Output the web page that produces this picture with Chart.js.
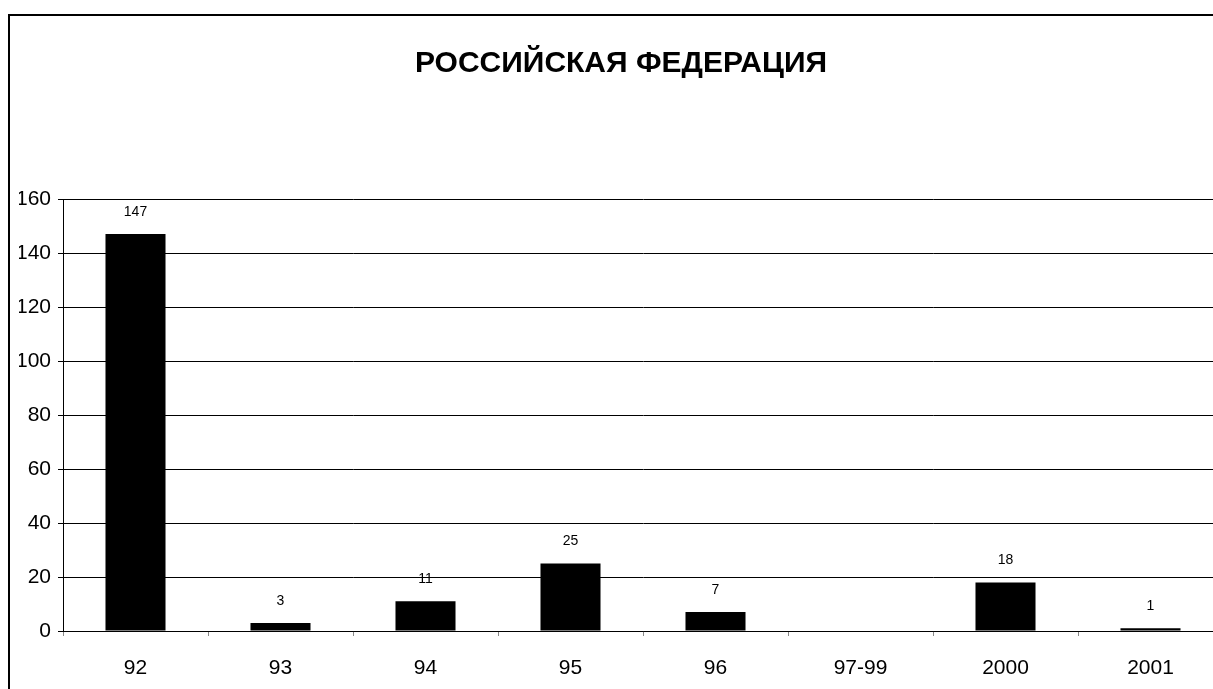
<!DOCTYPE html>
<html>
<head>
<meta charset="utf-8">
<script src="https://cdn.jsdelivr.net/npm/chart.js@4"></script>
<style>
  html, body { margin: 0; padding: 0; background: #fff; overflow: hidden; }
  #frame { position: absolute; left: 8px; top: 14px; width: 1300px; height: 800px;
           border-left: 2px solid #000; border-top: 2px solid #000; }
  #wrap { position: absolute; left: 0; top: 0; width: 1240px; height: 689px; }
</style>
</head>
<body>
<div id="frame"></div>
<div id="wrap"><canvas id="chart"></canvas></div>
<script>
const title = "РОССИЙСКАЯ ФЕДЕРАЦИЯ";
const years = ["92", "93", "94", "95", "96", "97-99", "2000", "2001"];
const counts = [147, 3, 11, 25, 7, null, 18, 1];
const yTicks = [0, 20, 40, 60, 80, 100, 120, 140, 160];

const FONT = "'Liberation Sans', Arial, sans-serif";

// numbers over the bars
const valueLabels = {
  id: "valueLabels",
  afterDatasetsDraw(chart) {
    const ctx = chart.ctx;
    const meta = chart.getDatasetMeta(0);
    ctx.save();
    ctx.font = "14px " + FONT;
    ctx.fillStyle = "#000";
    ctx.textAlign = "center";
    ctx.textBaseline = "bottom";
    meta.data.forEach((bar, i) => {
      if (counts[i] == null) return;
      ctx.fillText(String(counts[i]), bar.x, bar.y - 15);
    });
    ctx.restore();
  }
};

new Chart(document.getElementById("chart"), {
  type: "bar",
  data: {
    labels: years,
    datasets: [{
      data: counts,
      backgroundColor: "#000",
      borderWidth: 0,
      categoryPercentage: 1,
      barPercentage: 0.414
    }]
  },
  options: {
    responsive: true,
    maintainAspectRatio: false,
    animation: false,
    layout: { padding: { left: 19, right: 17, top: 0, bottom: 0 } },
    plugins: {
      legend: { display: false },
      tooltip: { enabled: false },
      title: {
        display: true,
        text: title,
        color: "#000",
        font: { family: FONT, size: 30, weight: "bold" },
        padding: { top: 46, bottom: 117 }
      }
    },
    scales: {
      x: {
        grid: { offset: true, drawOnChartArea: false, tickLength: 5, color: "#888" },
        border: { color: "#000", width: 1 },
        ticks: { color: "#000", font: { family: FONT, size: 21 }, padding: 20, maxRotation: 0 },
        afterFit(s) { s.height = 58; }
      },
      y: {
        min: 0,
        max: 160,
        afterBuildTicks(s) { s.ticks = yTicks.map(v => ({ value: v })); },
        grid: { color: "#000", tickLength: 5 },
        border: { color: "#000", width: 1 },
        ticks: { color: "#000", font: { family: FONT, size: 21 }, padding: 7 },
        afterFit(s) { s.width = 44; }
      }
    }
  },
  plugins: [valueLabels]
});
</script>
</body>
</html>
